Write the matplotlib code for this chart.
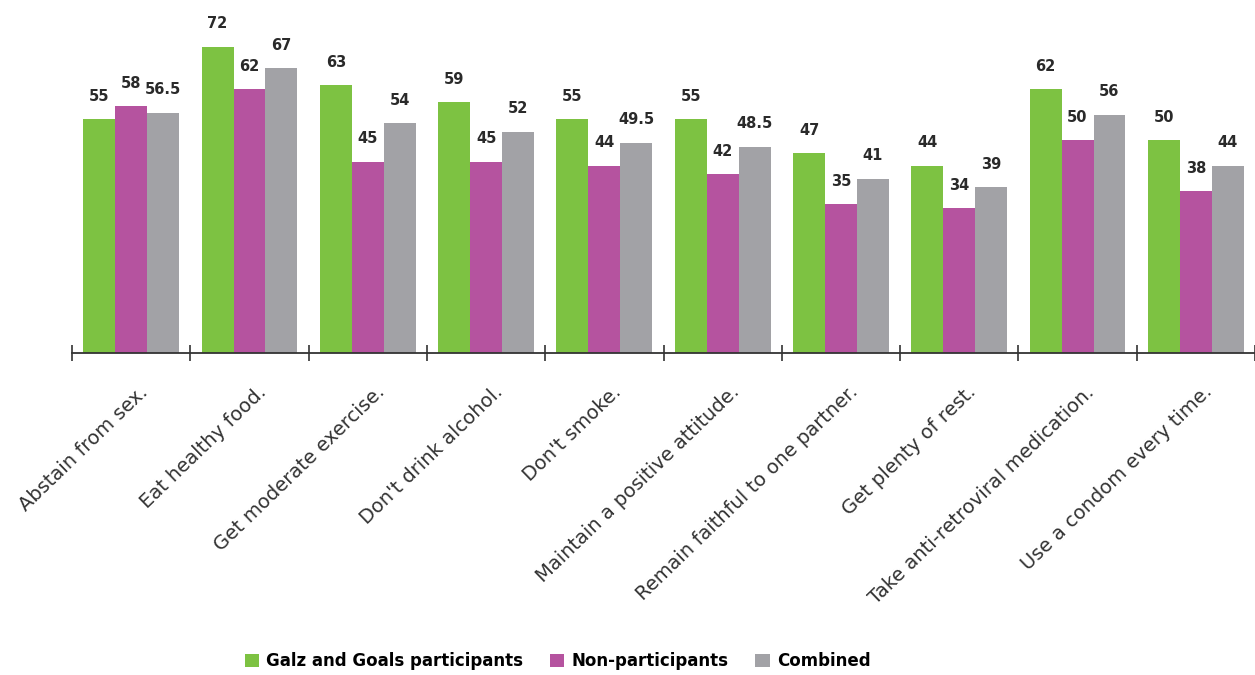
import numpy as np
import matplotlib.pyplot as plt

categories = ["Abstain from sex.", "Eat healthy food.", "Get moderate exercise.",
              "Don't drink alcohol.", "Don't smoke.", "Maintain a positive attitude.",
              "Remain faithful to one partner.", "Get plenty of rest.",
              "Take anti-retroviral medication.", "Use a condom every time."]
participants = [55, 72, 63, 59, 55, 55, 47, 44, 62, 50]
non_participants = [58, 62, 45, 45, 44, 42, 35, 34, 50, 38]
combined = [56.5, 67, 54, 52, 49.5, 48.5, 41, 39, 56, 44]

series = [("Galz and Goals participants", participants, "#7dc242"),
          ("Non-participants", non_participants, "#b5539f"),
          ("Combined", combined, "#a2a2a6")]

fig = plt.figure(figsize=(12.55, 6.75), dpi=100)
ax = fig.add_axes([0.0574, 0.477, 0.9426, 0.504])

x = np.arange(len(categories))
w = 0.27
for i, (name, vals, col) in enumerate(series):
    pos = x + (i - 1) * w
    bars = ax.bar(pos, vals, w, color=col, label=name)
    for b, v in zip(bars, vals):
        ax.annotate(f"{v:g}", xy=(b.get_x() + b.get_width() / 2, v),
                    xytext=(0, 16.5), textcoords="offset points",
                    ha="center", va="center", fontsize=10.5, fontweight="bold",
                    color="#2a2a2a")

ax.set_xlim(-0.5, len(categories) - 0.5)
ax.set_ylim(0, 80)
ax.set_yticks([])
for s in ["top", "right", "left"]:
    ax.spines[s].set_visible(False)
ax.spines["bottom"].set_color("#333333")
ax.spines["bottom"].set_linewidth(1.3)

ax.set_xticks(np.arange(-0.5, len(categories)))
ax.set_xticklabels([])
ax.tick_params(axis="x", direction="inout", length=12, width=1.2, color="#333333")
for xi, lab in zip(x, categories):
    ax.annotate(lab, xy=(xi + 0.06, 0), xycoords=("data", "axes fraction"),
                xytext=(0, -21), textcoords="offset points",
                rotation=44, ha="right", va="top", rotation_mode="anchor",
                fontsize=14, color="#333333")

fig.legend(loc="center left", bbox_to_anchor=(0.195, 0.02), ncol=3, frameon=False,
           prop={"size": 12, "weight": "bold"}, handlelength=0.85, handleheight=0.85,
           columnspacing=1.6, handletextpad=0.45, borderpad=0, borderaxespad=0)

fig.savefig("out.png", dpi=100, facecolor="white")
